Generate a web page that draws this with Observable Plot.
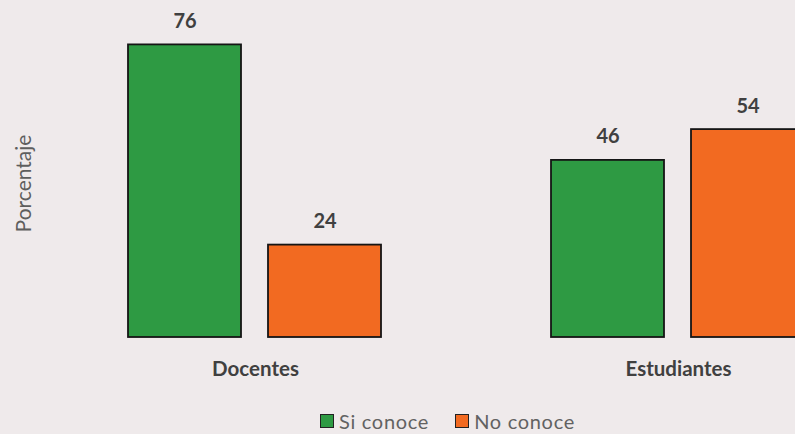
<!DOCTYPE html>
<html>
<head>
<meta charset="utf-8">
<script src="https://cdn.jsdelivr.net/npm/d3@7"></script>
<script src="https://cdn.jsdelivr.net/npm/@observablehq/plot@0.6"></script>
<style>
  html, body { margin: 0; padding: 0; background: #efeaeb; overflow: hidden; width: 795px; height: 434px; }
  #chart { width: 880px; }
  #chart svg { display: block; max-width: none !important; width: 880px; height: 400px; }
  #legend { display: flex; align-items: center; padding-left: 320px; margin-top: 9px; height: 24px; font-family: Lato, sans-serif; font-size: 20px; letter-spacing: 0.7px; color: #626262; }
  .item { display: flex; align-items: center; margin-right: 26px; }
  .sw { width: 14px; height: 14px; border: 1.5px solid #222; margin-right: 5px; box-sizing: border-box; }
</style>
</head>
<body>
<div id="chart"></div>
<div id="legend"></div>
<script>
const groups = ["Docentes", "Estudiantes"];
const series = ["Si conoce", "No conoce"];
const siConoce = [76, 46];
const noConoce = [24, 54];
const colors = ["#2e9a43", "#f26a21"];
const yLabel = "Porcentaje";

const data = groups.flatMap((g, i) => [
  {group: g, serie: series[0], value: siConoce[i]},
  {group: g, serie: series[1], value: noConoce[i]}
]);

const chart = Plot.plot({
  width: 880,
  height: 400,
  marginLeft: 60,
  marginRight: 8,
  marginTop: 29,
  marginBottom: 63,
  style: {background: "transparent", fontFamily: "Lato, sans-serif", fontSize: "15px", maxWidth: "none"},
  fx: {domain: groups, paddingInner: 0.4, paddingOuter: 0.158, label: null},
  x: {domain: series, axis: null, paddingInner: 0.19, paddingOuter: 0},
  y: {domain: [0, 80]},
  color: {domain: series, range: colors},
  marks: [
    Plot.axisFx({anchor: "bottom", tickSize: 0, tickPadding: 24, fontWeight: "bold", fill: "#404040", fontSize: 20.5, letterSpacing: 0.3, label: null}),
    Plot.axisY({ticks: [], label: yLabel, labelAnchor: "center", labelOffset: 112, labelArrow: "none", fontSize: 21, letterSpacing: 2.3, fill: "#5e5e5e"}),
    Plot.barY(data, {fx: "group", x: "serie", y: "value", fill: "serie", stroke: "#151515", strokeWidth: 1.8}),
    Plot.text(data, {fx: "group", x: "serie", y: "value", text: d => String(d.value), dy: -17, lineAnchor: "bottom", fontWeight: "bold", fill: "#404040", fontSize: 20})
  ]
});
document.getElementById("chart").appendChild(chart);

const legend = document.getElementById("legend");
series.forEach((s, i) => {
  const item = document.createElement("div");
  item.className = "item";
  const sw = document.createElement("span");
  sw.className = "sw";
  sw.style.background = colors[i];
  const t = document.createElement("span");
  t.textContent = s;
  item.appendChild(sw);
  item.appendChild(t);
  legend.appendChild(item);
});
</script>
</body>
</html>
